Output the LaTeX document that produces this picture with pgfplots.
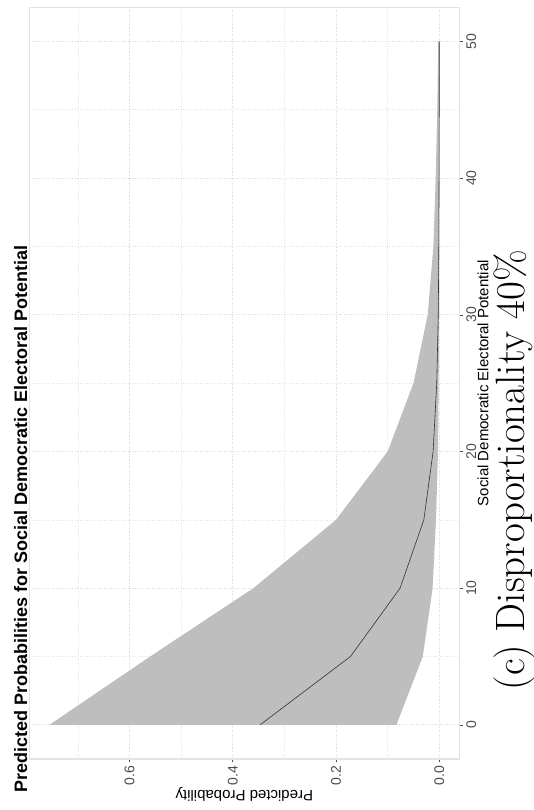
\documentclass[border=0pt]{standalone}
\usepackage{pgfplots}
\pgfplotsset{compat=1.18}
\usepackage{pgfplotstable}
\usepgfplotslibrary{fillbetween}
\usepackage{fontspec}
\setsansfont{Liberation Sans}
\definecolor{band}{HTML}{BEBEBE}
\definecolor{gridc}{HTML}{DADADA}
\definecolor{panelc}{HTML}{E3E3E3}
\definecolor{tickc}{HTML}{4D4D4D}
\definecolor{linec}{HTML}{333333}

\pgfplotstableread{
pot upper mid lower
0 0.755 0.347 0.083
5 0.560 0.172 0.032
10 0.360 0.076 0.013
15 0.200 0.030 0.0065
20 0.100 0.012 0.0025
25 0.050 0.005 0.0012
30 0.0225 0.002 0.0006
35 0.0115 0.001 0.0003
40 0.007 0.0005 0.0001
45 0.004 0.0002 0.00005
50 0.002 0.0001 0.00002
}\datatable

\begin{document}
\begin{tikzpicture}
\begin{axis}[
  scale only axis, width=430pt, height=751.7pt,
  at={(0pt,0pt)}, anchor=south west,
  x dir=reverse, xmin=-0.0387, xmax=0.794, ymin=-2.5, ymax=52.5,
  xtick={0,0.2,0.4,0.6}, xticklabels={0.0,0.2,0.4,0.6},
  minor xtick={0.1,0.3,0.5,0.7},
  ytick={0,10,20,30,40,50}, yticklabels={0,10,20,30,40,50},
  minor ytick={5,15,25,35,45},
  grid=both,
  major grid style={gridc, dotted, line width=0.7pt},
  minor grid style={gridc!75, dotted, line width=0.6pt},
  axis line style={panelc, line width=1.2pt},
  xtick pos=left, ytick pos=right,
  tick align=outside, major tick length=3.5pt, minor tick length=0pt,
  every tick/.style={tickc, line width=0.6pt},
  yticklabel pos=right,
  xticklabel style={rotate=90, anchor=east, font=\sffamily\fontsize{14}{14}\selectfont, text=tickc},
  yticklabel style={rotate=90, anchor=north, font=\sffamily\fontsize{14}{14}\selectfont, text=tickc},
  xlabel={Predicted Probability},
  ylabel={Social Democratic Electoral Potential},
  every axis x label/.style={at={(axis description cs:0.5,-0.0466)}, rotate=180, anchor=center, font=\sffamily\fontsize{15}{15}\selectfont},
  every axis y label/.style={at={(axis description cs:1.055,0.5)}, rotate=90, anchor=center, font=\sffamily\fontsize{15}{15}\selectfont},
]
\addplot[name path=up, draw=none, forget plot] table[x=upper, y=pot] {\datatable};
\addplot[name path=lo, draw=none, forget plot] table[x=lower, y=pot] {\datatable};
\addplot[band, draw=none] fill between[of=up and lo];
\addplot[linec, line width=0.6pt] table[x=mid, y=pot] {\datatable};
\end{axis}
\node[rotate=90, anchor=base west, font=\sffamily\bfseries\fontsize{18}{18}\selectfont] at (-2.3pt,-37pt) {Predicted Probabilities for Social Democratic Electoral Potential};
\node[rotate=90, font=\rmfamily\fontsize{41}{41}\selectfont] at (485pt,289pt) {(c) Disproportionality 40\%};
\pgfresetboundingbox
\useasboundingbox (-29.3pt,-51pt) rectangle (504.7pt,759pt);
\end{tikzpicture}
\end{document}
